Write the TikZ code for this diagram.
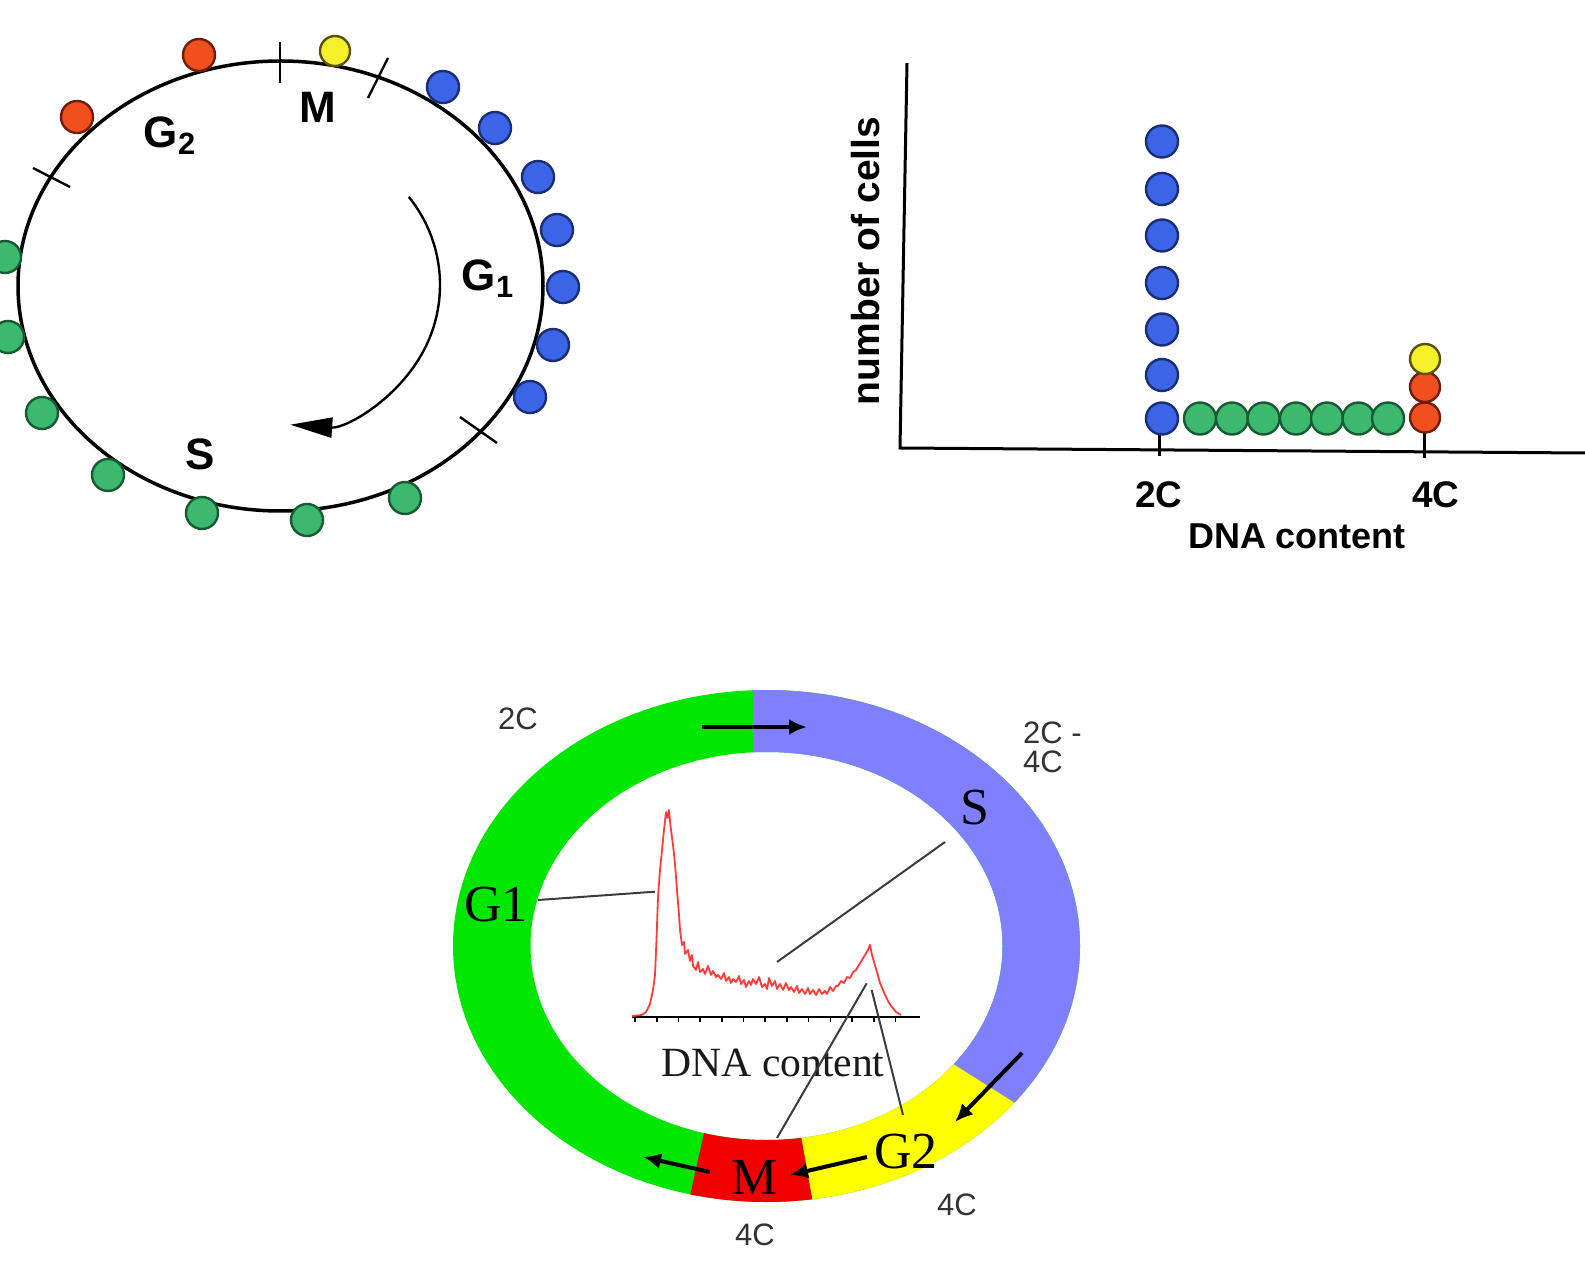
\documentclass[tikz,border=0pt]{standalone}
\usepackage{fontspec}
\setmainfont{Liberation Serif}
\setsansfont{Liberation Sans}
\usetikzlibrary{arrows.meta}
\definecolor{bluefill}{RGB}{60,100,230}
\definecolor{blueline}{RGB}{25,45,120}
\definecolor{greenfill}{RGB}{60,185,110}
\definecolor{greenline}{RGB}{25,90,50}
\definecolor{redfill}{RGB}{240,80,30}
\definecolor{redline}{RGB}{110,30,10}
\definecolor{yellowfill}{RGB}{245,240,40}
\definecolor{yellowline}{RGB}{90,80,10}
\definecolor{ringgreen}{RGB}{0,230,0}
\definecolor{ringblue}{RGB}{128,128,255}
\definecolor{ringyellow}{RGB}{255,255,0}
\definecolor{ringred}{RGB}{240,0,0}
\definecolor{labelgrey}{RGB}{50,50,50}
\definecolor{pointergrey}{RGB}{60,60,60}
\definecolor{histred}{RGB}{255,60,60}

\begin{document}
\begin{tikzpicture}[x=0.5pt,y=-0.5pt,
  cell/.style={circle, line width=1.2pt, minimum size=16pt, inner sep=0pt},
  bluecell/.style={cell, draw=blueline, fill=bluefill},
  greencell/.style={cell, draw=greenline, fill=greenfill},
  redcell/.style={cell, draw=redline, fill=redfill},
  yellowcell/.style={cell, draw=yellowline, fill=yellowfill, minimum size=15pt},
  phase/.style={font=\sffamily\bfseries\fontsize{22}{22}\selectfont},
  axlab/.style={font=\sffamily\bfseries\fontsize{18.5}{18.5}\selectfont},
  ringlab/.style={font=\fontsize{26}{26}\selectfont},
  dnalab/.style={font=\sffamily\fontsize{15.5}{14.5}\selectfont, text=labelgrey},
  pointer/.style={draw=pointergrey, line width=1pt},
  flow/.style={line width=2pt, -{Latex[length=9pt,width=8pt]}}]

\useasboundingbox (0,0) rectangle (1585,1261);

% cycle with cells
\draw[line width=1.75pt] (280.5,286) ellipse[x radius=131.25pt, y radius=112.5pt];
\draw[line width=1.2pt] (280,42) -- (280,83);
\draw[line width=1.2pt] (388,58) -- (368,98);
\draw[line width=1.2pt] (33,168) -- (70,187);
\draw[line width=1.2pt] (460,417) -- (497,443);

\node[redcell] (cr1) at (199,55) {};
\node[redcell] (cr2) at (77,117) {};
\node[yellowcell] (cy1) at (335,51) {};
\foreach \p [count=\i] in {(443,87),(495,128),(538,177),(557,230),(563,287),(553,345),(530,397)}
  \node[bluecell] (cb\i) at \p {};
\foreach \p [count=\i] in {(5,257),(8,337),(42,413),(108,475),(202,513),(307,520),(405,498)}
  \node[greencell] (cg\i) at \p {};

\node[phase] (tM) at (318,107) {M};
\node[phase] (tG2) at (170,136) {G\textsubscript{2}};
\node[phase] (tG1) at (488,279) {G\textsubscript{1}};
\node[phase] (tS) at (200,454) {S};

\coordinate (cycA) at (408.8,196.9);
\coordinate (cycB) at (424.2,349.6);
\coordinate (cycC) at (290.2,424.7);
\draw[line width=1.2pt, -{Triangle[length=21pt,width=10pt]}] (cycA) .. controls (443.9,240.2) and (449.9,300.1) .. (cycB) .. controls (398.5,399.1) and (345.8,428.6) .. (cycC);

% dot plot
\draw[line width=1.5pt] (907,63) -- (900,448) -- (1585,453);
\draw[line width=1.5pt] (1159,432) -- (1159,456);
\draw[line width=1.5pt] (1424,432) -- (1424,458);
\foreach \y [count=\i] in {141.5,189,235.5,283,329.5,375,418.5}
  \node[bluecell] (pb\i) at (1162,\y) {};
\foreach \x [count=\i] in {1200,1232,1263.5,1296,1327,1358.5,1388}
  \node[greencell] (pg\i) at (\x,418.5) {};
\node[redcell, minimum size=15pt] (pr1) at (1425,417.5) {};
\node[redcell, minimum size=15pt] (pr2) at (1425,387) {};
\node[yellowcell] (py1) at (1425,359) {};

\node[axlab] (p2C) at (1159,495) {2C};
\node[axlab] (p4C) at (1436,495) {4C};
\node[axlab, font=\sffamily\bfseries\fontsize{18}{18}\selectfont] (pdna) at (1297,536) {DNA content};
\node[axlab, font=\sffamily\bfseries\fontsize{19.5}{19.5}\selectfont, rotate=90] (pnum) at (866,261) {number of cells};

% phase ring
\fill[ringgreen, even odd rule] (766.5,946) ellipse[x radius=156.75pt, y radius=128pt] (766.5,946) ellipse[x radius=118pt, y radius=97pt];
\begin{scope}
  \clip (753,600) -- (1200,600) -- (1200,1220) -- (844,995) -- (753,995) -- cycle;
  \fill[ringblue, even odd rule] (766.5,946) ellipse[x radius=156.75pt, y radius=128pt] (766.5,946) ellipse[x radius=118pt, y radius=97pt];
\end{scope}
\begin{scope}
  \clip (844,995) -- (1200,1220) -- (1200,1300) -- (830,1300) -- (776,995) -- cycle;
  \fill[ringyellow, even odd rule] (766.5,946) ellipse[x radius=156.75pt, y radius=128pt] (766.5,946) ellipse[x radius=118pt, y radius=97pt];
\end{scope}
\begin{scope}
  \clip (776,995) -- (830,1300) -- (667,1300) -- (734.5,995) -- cycle;
  \fill[ringred, even odd rule] (766.5,946) ellipse[x radius=156.75pt, y radius=128pt] (766.5,946) ellipse[x radius=118pt, y radius=97pt];
\end{scope}

\coordinate (fG1a) at (702,727);
\coordinate (fG1b) at (807,727);
\coordinate (fSa) at (1022,1053);
\coordinate (fSb) at (955,1122);
\coordinate (fG2a) at (867,1157);
\coordinate (fG2b) at (790,1175);
\coordinate (fMa) at (710,1172);
\coordinate (fMb) at (643,1157);
\draw[flow] (fG1a) -- (fG1b);
\draw[flow] (fSa) -- (fSb);
\draw[flow] (fG2a) -- (fG2b);
\draw[flow] (fMa) -- (fMb);

\node[ringlab] (rS) at (975,808) {S};
\node[ringlab] (rG1) at (496,905) {G1};
\node[ringlab] (rM) at (755,1177) {M};
\node[ringlab] (rG2) at (906,1152) {G2};

\node[dnalab] (d2C) at (518,719) {2C};
\node[dnalab, anchor=west, align=left] (d2C4C) at (1016,747) {2C -\\4C};
\node[dnalab] (d4Ca) at (957,1205) {4C};
\node[dnalab] (d4Cb) at (755,1235) {4C};

% histogram
\draw[line width=1.2pt] (632,1017) -- (920,1017);
\foreach \i in {0,...,12}
  \draw[line width=0.8pt] (635+21.7*\i,1017) -- ++(0,5);
\draw[histred, line width=0.9pt, line join=round] plot coordinates {(632,1016) (641.7,1015) (646,1012) (650,1004) (653,990) (655,975) (656.5,940) (658,897) (660,870) (662,850) (664,830) (666,812) (667.5,818) (669,810) (670.5,826) (673,845) (675,864) (677,890) (679,915) (680,930) (682,945) (684,942) (685,954) (688,950) (690,961) (692,955) (693,966) (696,970) (698,962) (700,972) (703,969) (705,974) (708,966) (711,975) (713,971) (716,977) (718,975) (721,979) (724,973) (726,981) (729,977) (731,983) (733,979) (736,982) (739,976) (741,984) (744,980) (746,987) (749,981) (751,985) (753,979) (756,984) (759,977) (762,987) (765,984) (767,989) (769,978) (772,986) (775,981) (777,989) (780,984) (783,990) (786,983) (789,990) (791,987) (794,992) (797,986) (799,993) (802,989) (805,994) (808,988) (810,994) (813,990) (816,995) (819,989) (822,994) (825,991) (827,994) (830,987) (833,991) (836,986) (838,986) (841,981) (844,983) (847,977) (850,978) (853,972) (856,970) (859,965) (862,960) (865,955) (868,950) (870,945) (872,955) (874,962) (877,972) (880,983) (883,990) (886,997) (889,1003) (892,1007) (896,1012) (901,1015)};

\node[font=\fontsize{20.8}{20.8}\selectfont, text=black!90] (hdna) at (773,1063) {DNA content};

\coordinate (hG1) at (655,891.7);
\coordinate (hS) at (777,962);
\coordinate (hM) at (866.7,983.3);
\coordinate (hG2) at (871.7,990);
\coordinate (lG1) at (538,900);
\coordinate (lS) at (945,842);
\coordinate (lM) at (777,1138);
\coordinate (lG2) at (903,1115);
\draw[pointer] (lG1) -- (hG1);
\draw[pointer] (lS) -- (hS);
\draw[pointer] (lM) -- (hM);
\draw[pointer] (lG2) -- (hG2);

\end{tikzpicture}
\end{document}
